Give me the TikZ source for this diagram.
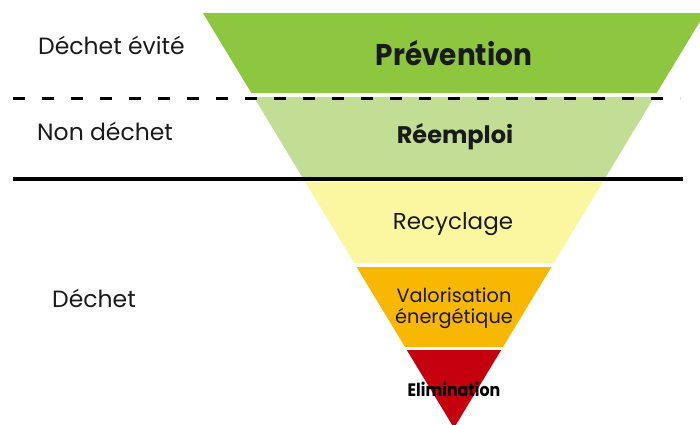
\documentclass[tikz,border=0pt]{standalone}
\usepackage{fontspec}
\setmainfont{Poppins}
\definecolor{preventiongreen}{RGB}{141,198,63}
\definecolor{reemploigreen}{RGB}{194,222,149}
\definecolor{recyclageyellow}{RGB}{251,247,160}
\definecolor{valorisationorange}{RGB}{248,183,0}
\definecolor{eliminationred}{RGB}{196,0,14}
\definecolor{textgray}{RGB}{26,26,26}
\tikzset{
  level/.style={anchor=base, text=textgray, inner sep=0pt},
  side/.style={anchor=base west, text=textgray, inner sep=0pt, font=\fontsize{23.5}{26}\selectfont},
  divider/.style={line width=3pt, black}
}
\begin{document}
\begin{tikzpicture}[x=1pt, y=-1pt]
        \clip (0,0) rectangle (700,424);

        % loops over the 5 bands of the funnel (apex at 454,428)
        \foreach \top/\bot/\col in {13/93/preventiongreen, 97/178/reemploigreen,
            182/263/recyclageyellow, 267/347/valorisationorange, 350/428/eliminationred}{
          \fill[\col]
          ({454-.605*(428-\top)},\top) -- ({454+.605*(428-\top)},\top) --
          ({454+.605*(428-\bot)},\bot) -- ({454-.605*(428-\bot)},\bot) -- cycle;
          }

        % separators between the three kinds of waste
        \coordinate (avoided west) at (13,98);
        \coordinate (avoided east) at (680,98);
        \coordinate (waste west) at (13,179);
        \coordinate (waste east) at (683,179);
        \draw[divider, dash pattern=on 12pt off 17pt] (avoided west) -- (avoided east);
        \draw[divider, line width=4pt] (waste west) -- (waste east);

        % labels of the bands
        \node[level, font=\fontsize{30}{34}\bfseries\addfontfeature{FakeStretch=0.93}]
          (prevention) at (454,65) {Prévention};
        \node[level, font=\fontsize{24}{28}\bfseries] (reemploi) at (455,143) {Réemploi};
        \node[level, font=\fontsize{23}{26}\selectfont] (recyclage) at (453,229) {Recyclage};
        \node[level, font=\fontsize{19.3}{21}\selectfont, align=center]
          (valorisation) at (454,323) {Valorisation\\énergétique};
        \node[level, text=black, font=\fontsize{18}{20}\bfseries\addfontfeature{FakeStretch=0.88}]
          (elimination) at (454,396) {Elimination};

        % labels on the left
        \node[side] (avoided) at (38,54) {Déchet évité};
        \node[side] (nonwaste) at (37,140) {Non déchet};
        \node[side] (waste) at (52,307) {Déchet};
      \end{tikzpicture}
\end{document}
